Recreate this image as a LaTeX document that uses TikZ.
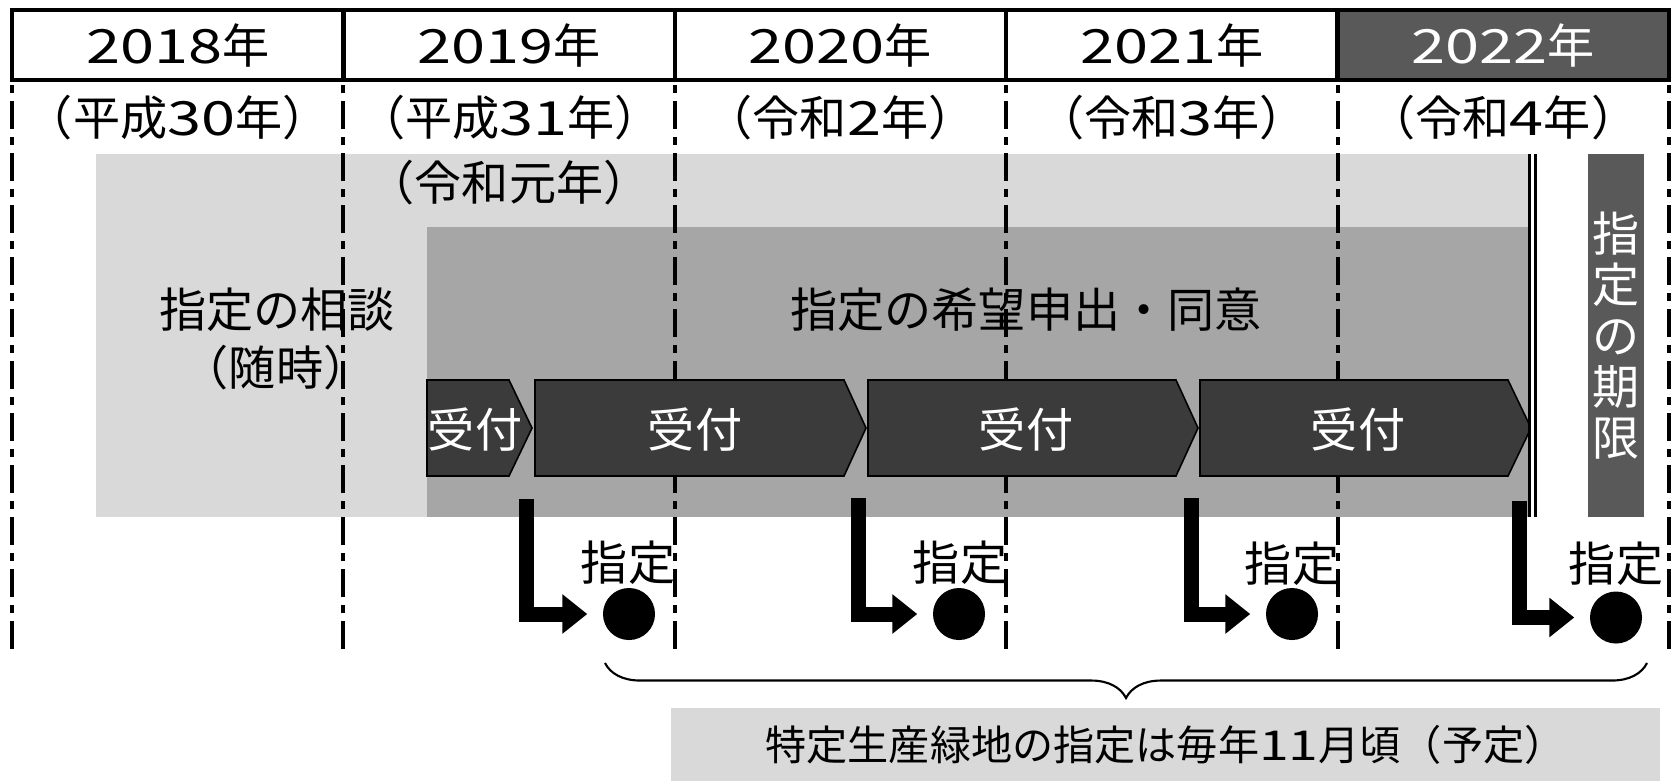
\documentclass[tikz,border=0pt]{standalone}
\usepackage{fontspec}
\setmainfont{Noto Sans CJK JP}
\newfontfamily\widedigits[FakeStretch=1.3]{Noto Sans CJK JP}
\newcommand{\digs}[1]{{\widedigits #1}}
\usepackage{tikz}
\usetikzlibrary{arrows.meta}
\usetikzlibrary{decorations.pathreplacing}
\definecolor{lightgr}{HTML}{D9D9D9}
\definecolor{midgr}{HTML}{A6A6A6}
\definecolor{darkgr}{HTML}{595959}
\definecolor{chevgr}{HTML}{3B3B3B}
\tikzset{
  yearcell/.style={draw,line width=1.2pt,minimum width=3.314cm,minimum height=0.70cm,inner sep=0pt},
  yearline/.style={line width=1.1pt,dash pattern=on 0.08cm off 0.08cm on 0.28cm off 0.08cm},
  chev/.style={fill=chevgr,draw=black,line width=0.45pt},
  chevtext/.style={text=white},
  jump/.style={line width=0.15cm,-{Triangle[length=0.25cm,width=0.38cm]},shorten >=0.15cm},
  dot/.style={circle,fill=black,inner sep=0pt,minimum size=0.52cm}
}

\begin{document}
\begin{tikzpicture}[x=0.01cm,y=-0.01cm,font=\fontsize{13.4pt}{16pt}\selectfont]
  \useasboundingbox (0,0) rectangle (1679,781);
  % consultation and application periods
  \fill[lightgr] (96,154) rectangle (1528,517);
  \fill[midgr] (427,227) rectangle (1528,517);
  % year header
  \node[yearcell] (y2018) at (177.7,45) {\digs{2018}年};
  \node[yearcell] (y2019) at (509.1,45) {\digs{2019}年};
  \node[yearcell] (y2020) at (840.5,45) {\digs{2020}年};
  \node[yearcell] (y2021) at (1171.9,45) {\digs{2021}年};
  \node[yearcell,fill=darkgr,text=white] (y2022) at (1503.3,45) {\digs{2022}年};
  % era names
  \node (era2018) at (177.7,118) {（平成\digs{30}年）};
  \node (era2019) at (510,118) {（平成\digs{31}年）};
  \node (era2019b) at (509,183) {（令和元年）};
  \node (era2020) at (840.5,118) {（令和\digs{2}年）};
  \node (era2021) at (1171.9,118) {（令和\digs{3}年）};
  \node (era2022) at (1503.3,118) {（令和\digs{4}年）};
  \node (soudan) at (277,310) {指定の相談};
  \node (zuiji) at (276,368) {（随時）};
  \node (kibou) at (1026,310) {指定の希望申出・同意};
  \node (shitei1) at (628,563) {指定};
  \node (shitei2) at (960,563) {指定};
  \node (shitei3) at (1292,564) {指定};
  \node (shitei4) at (1616,564) {指定};
  % year boundaries
  \draw[yearline] (12,85) -- (12,651);
  \draw[yearline] (343.4,85) -- (343.4,651);
  \draw[yearline] (674.8,85) -- (674.8,651);
  \draw[yearline] (1006.2,85) -- (1006.2,651);
  \draw[yearline] (1337.6,85) -- (1337.6,651);
  \draw[yearline] (1669,85) -- (1669,651);
  % reception periods
  \draw[chev] (427,380) -- (509,380) -- (532,428) -- (509,476) -- (427,476) -- cycle;
  \draw[chev] (535,380) -- (844,380) -- (866,428) -- (844,476) -- (535,476) -- cycle;
  \draw[chev] (868,380) -- (1176,380) -- (1198,428) -- (1176,476) -- (868,476) -- cycle;
  \draw[chev] (1200,380) -- (1508,380) -- (1531,428) -- (1508,476) -- (1200,476) -- cycle;
  \node[chevtext] (uk1) at (475,430) {受付};
  \node[chevtext] (uk2) at (695,430) {受付};
  \node[chevtext] (uk3) at (1026,430) {受付};
  \node[chevtext] (uk4) at (1358,430) {受付};
  \draw[line width=0.9pt,double=white,double distance=0.03cm] (1532.5,154) -- (1532.5,517);
  \node[fill=darkgr,text=white,minimum width=0.56cm,minimum height=3.63cm,inner sep=0pt,
        align=center,font=\fontsize{13.4pt}{14.5pt}\selectfont] (kigen) at (1616,335.5) {指\\定\\の\\期\\限};
  % designation each year
  \node[dot] (dot1) at (629,614) {};
  \node[dot] (dot2) at (959,614) {};
  \node[dot] (dot3) at (1292,614) {};
  \node[dot] (dot4) at (1616,617.5) {};
  \coordinate (drop1) at (526,499);
  \coordinate (drop2) at (858,498);
  \coordinate (drop3) at (1191,498);
  \coordinate (drop4) at (1519.5,501);
  \draw[jump] (drop1) |- (dot1.west);
  \draw[jump] (drop2) |- (dot2.west);
  \draw[jump] (drop3) |- (dot3.west);
  \draw[jump] (drop4) |- (dot4.west);
  % note
  \coordinate (bracel) at (605,663);
  \coordinate (bracer) at (1647,663);
  \draw[line width=0.6pt,decorate,decoration={brace,mirror,amplitude=0.35cm}] (bracel) -- (bracer);
  \node[fill=lightgr,minimum width=9.89cm,minimum height=0.73cm,inner sep=0pt,
        font=\fontsize{11.7pt}{14pt}\selectfont] (note) at (1165.5,744.5) {特定生産緑地の指定は毎年\digs{11}月頃（予定）};
\end{tikzpicture}
\end{document}
